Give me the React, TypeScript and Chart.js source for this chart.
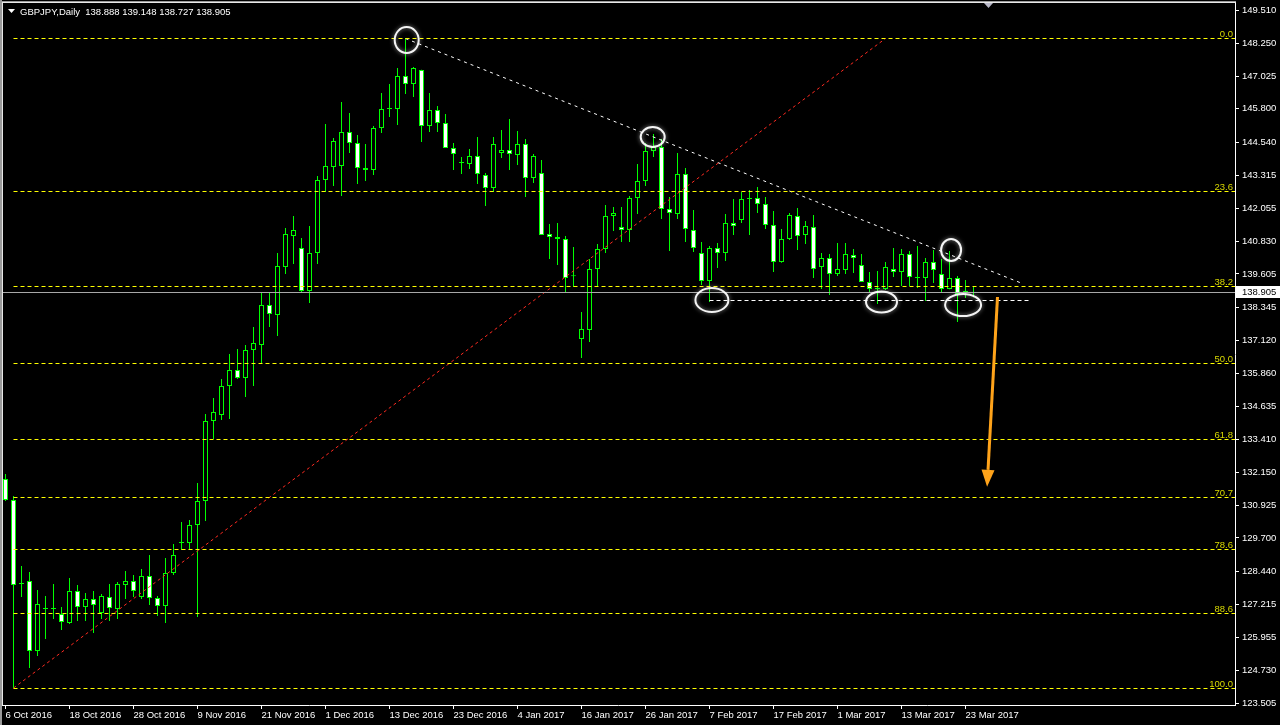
import React, { useEffect, useRef } from "react";
import { Chart, registerables } from "chart.js";

Chart.register(...registerables);

const symbolTitle = "GBPJPY,Daily";

const opens = [
  131.911, 131.123, 127.972, 128.084, 125.458, 127.033, 127.033, 126.846, 126.508, 127.709,
  127.109, 127.409, 126.883, 127.484, 127.033, 127.934, 128.084, 127.484, 128.272, 127.446,
  127.146, 128.384, 129.51, 129.51, 130.185, 131.086, 134.088, 134.313, 135.401, 136.001,
  135.701, 136.752, 136.94, 138.44, 138.065, 139.866, 141.03, 140.579, 138.966, 140.392,
  143.131, 143.619, 143.656, 144.932, 144.519, 143.581, 143.506, 145.082, 145.795, 145.795,
  147.033, 146.733, 147.258, 145.157, 145.757, 145.27, 144.332, 143.769, 143.731, 144.031,
  143.318, 142.831, 144.144, 144.257, 144.069, 144.482, 143.206, 143.394, 141.105, 140.992,
  140.917, 139.529, 137.165, 137.502, 139.791, 140.542, 141.78, 141.367, 141.255, 142.455,
  143.093, 144.219, 144.369, 142.043, 141.855, 143.356, 141.255, 140.392, 139.341, 140.579,
  140.392, 141.517, 141.63, 142.418, 142.455, 142.23, 141.442, 140.054, 140.917, 141.78,
  141.067, 141.367, 139.866, 140.204, 139.604, 139.754, 140.317, 139.941, 139.304, 139.041,
  139.041, 139.791, 139.679, 140.354, 139.454, 139.454, 140.054, 139.604, 139.041, 139.454,
  138.891, 138.888,
];

const highs = [
  132.099, 131.274, 128.647, 128.422, 127.746, 127.521, 127.972, 127.109, 128.197, 127.934,
  127.634, 127.709, 127.596, 127.972, 128.047, 128.459, 128.309, 128.534, 129.06, 127.521,
  128.947, 129.472, 130.298, 130.373, 131.761, 134.35, 134.951, 135.664, 136.602, 136.789,
  136.94, 137.615, 138.891, 138.891, 140.392, 141.33, 141.78, 140.955, 141.405, 143.281,
  145.232, 144.707, 146.058, 145.645, 144.819, 144.482, 145.157, 146.395, 146.733, 147.333,
  148.44, 147.371, 147.27, 146.395, 145.908, 145.607, 144.519, 143.994, 144.294, 144.744,
  143.394, 144.744, 145.007, 145.42, 144.969, 144.669, 144.106, 143.881, 141.48, 141.517,
  141.03, 140.617, 138.178, 140.167, 140.729, 142.193, 142.118, 142.118, 142.53, 143.731,
  144.519, 144.857, 144.669, 142.493, 144.144, 143.581, 142.005, 140.804, 140.654, 140.767,
  141.855, 142.418, 142.681, 142.756, 142.868, 142.493, 141.968, 141.292, 141.893, 142.08,
  141.592, 141.818, 140.392, 140.354, 140.767, 140.767, 140.542, 140.354, 139.679, 139.716,
  140.054, 140.579, 140.542, 140.467, 140.654, 140.204, 140.504, 140.167, 140.467, 139.529,
  139.379, 139.148,
];

const lows = [
  131.086, 124.069, 127.484, 124.82, 125.27, 125.908, 126.658, 126.246, 126.471, 126.583,
  126.583, 126.132, 126.658, 126.583, 126.658, 127.409, 127.484, 127.409, 127.184, 126.771,
  126.508, 128.309, 129.247, 129.285, 126.733, 130.336, 133.412, 134.125, 134.163, 135.664,
  134.988, 135.401, 136.264, 137.615, 137.277, 139.604, 139.979, 138.891, 138.516, 139.979,
  142.681, 142.906, 142.53, 144.144, 142.981, 143.093, 143.318, 144.894, 145.495, 145.195,
  146.358, 146.245, 144.557, 144.932, 144.932, 144.332, 143.506, 143.356, 143.544, 142.981,
  142.155, 142.681, 143.956, 143.506, 143.694, 142.493, 143.018, 141.067, 140.167, 139.941,
  138.928, 139.116, 136.452, 137.052, 139.116, 140.392, 141.217, 140.804, 140.804, 141.855,
  142.906, 143.994, 141.667, 140.467, 141.667, 140.804, 140.429, 139.191, 138.553, 139.829,
  140.091, 141.067, 141.517, 141.067, 141.893, 141.292, 139.679, 140.03, 140.879, 140.504,
  140.729, 139.454, 139.041, 138.816, 139.529, 139.604, 139.641, 139.304, 138.891, 138.478,
  139.003, 139.491, 139.153, 139.153, 139.078, 138.591, 139.266, 138.928, 139.03, 137.803,
  138.703, 138.727,
];

const closes = [
  131.123, 127.934, 128.009, 125.458, 127.221, 127.04, 127.03, 126.546, 127.709, 127.109,
  127.409, 127.184, 127.521, 127.071, 127.972, 128.084, 127.709, 128.272, 127.446, 127.146,
  128.384, 129.06, 129.52, 130.185, 131.086, 134.088, 134.426, 135.401, 136.001, 135.701,
  136.752, 137.015, 138.44, 138.103, 139.904, 141.105, 141.255, 138.966, 140.392, 143.131,
  143.656, 144.594, 144.932, 144.519, 143.581, 143.506, 145.082, 145.795, 145.8, 147.033,
  146.733, 147.333, 145.157, 145.757, 145.27, 144.332, 144.106, 143.78, 144.031, 143.356,
  142.831, 144.482, 144.257, 144.106, 144.482, 143.206, 144.031, 141.067, 140.992, 140.917,
  139.454, 139.52, 137.54, 139.791, 140.542, 141.78, 141.893, 141.255, 142.455, 143.093,
  144.219, 144.369, 142.043, 141.893, 143.356, 141.292, 140.579, 139.341, 140.579, 140.392,
  141.517, 141.405, 142.418, 142.43, 142.23, 141.442, 140.054, 140.917, 141.818, 141.03,
  141.405, 139.791, 140.204, 139.604, 139.791, 140.354, 140.204, 139.304, 139.041, 139.05,
  139.866, 139.679, 140.354, 139.491, 139.46, 140.054, 139.754, 139.041, 139.454, 138.853,
  138.966, 138.905,
];

const dateLabels = [
  "6 Oct 2016", "18 Oct 2016", "28 Oct 2016", "9 Nov 2016", "21 Nov 2016", "1 Dec 2016",
  "13 Dec 2016", "23 Dec 2016", "4 Jan 2017", "16 Jan 2017", "26 Jan 2017", "7 Feb 2017",
  "17 Feb 2017", "1 Mar 2017", "13 Mar 2017", "23 Mar 2017",
];
const dateLabelBars = [0, 8, 16, 24, 32, 40, 48, 56, 64, 72, 80, 88, 96, 104, 112, 120];

const priceTicks = [
  149.51, 148.25, 147.025, 145.8, 144.54, 143.315, 142.055, 140.83, 139.605, 138.345, 137.12,
  135.86, 134.635, 133.41, 132.15, 130.925, 129.7, 128.44, 127.215, 125.955, 124.73, 123.505,
];

const fibLevels = [0, 23.6, 38.2, 50, 61.8, 70.7, 78.6, 88.6, 100];
const fibHighPrice = 148.44;
const fibLowPrice = 124.069;
const fibStartBar = 1;
const fibEndBar = 110;

const trendLineBars = [50, 127];
const trendLinePrices = [148.44, 139.26];

const supportBars = [88, 128];
const supportPrice = 138.61;

const currentPrice = 138.905;

const circleBars = [50.15, 80.9, 118.2, 88.3, 109.5, 119.7];
const circlePrices = [148.384, 144.744, 140.505, 138.628, 138.553, 138.441];

const arrowBars = [124, 122.7];
const arrowPrices = [138.741, 131.62];

// ---- visual constants (styles / sizes) ----
const X_MIN = -0.5625;
const X_MAX = 153.6875;
const Y_MAX = 149.7727;
const Y_MIN = 123.4317;
const FONT = '"Liberation Sans", Arial, sans-serif';
const GREEN = "#00ff00";
const CIRCLE_RADII: [number, number][] = [
  [12, 13],
  [12, 10],
  [10, 11],
  [16.5, 12],
  [15.5, 10.5],
  [18, 11],
];

const decorPlugin = {
  id: "mt4decor",
  beforeDraw(chart: any) {
    const ctx = chart.ctx;
    ctx.save();
    ctx.fillStyle = "#000";
    ctx.fillRect(0, 0, chart.width, chart.height);
    ctx.restore();
  },
  afterDatasetsDraw(chart: any) {
    const ctx = chart.ctx;
    const xs = chart.scales.x;
    const ys = chart.scales.y;
    const area = chart.chartArea;
    ctx.save();
    ctx.beginPath();
    ctx.rect(area.left, area.top, area.right - area.left, area.bottom - area.top);
    ctx.clip();

    // current price line
    const cy = Math.floor(ys.getPixelForValue(currentPrice)) + 0.5;
    ctx.strokeStyle = "#a8a8a8";
    ctx.lineWidth = 1;
    ctx.setLineDash([]);
    ctx.beginPath();
    ctx.moveTo(area.left, cy);
    ctx.lineTo(area.right, cy);
    ctx.stroke();

    // fib levels
    const range = fibHighPrice - fibLowPrice;
    const fx = xs.getPixelForValue(fibStartBar);
    ctx.setLineDash([4, 3]);
    ctx.strokeStyle = "#ffff00";
    ctx.font = `9.5px ${FONT}`;
    ctx.textAlign = "right";
    ctx.textBaseline = "alphabetic";
    fibLevels.forEach((lv) => {
      const p = fibHighPrice - (lv / 100) * range;
      const py = Math.floor(ys.getPixelForValue(p)) + 0.5;
      ctx.beginPath();
      ctx.moveTo(fx, py);
      ctx.lineTo(area.right, py);
      ctx.stroke();
    });
    ctx.setLineDash([]);
    ctx.fillStyle = "#d8d800";
    fibLevels.forEach((lv) => {
      const p = fibHighPrice - (lv / 100) * range;
      const py = Math.floor(ys.getPixelForValue(p));
      ctx.fillText(lv.toFixed(1), area.right - 2, py - 1);
    });

    // support dashed line
    const sy = Math.floor(ys.getPixelForValue(supportPrice)) + 0.5;
    ctx.strokeStyle = "#ffffff";
    ctx.setLineDash([4, 3]);
    ctx.beginPath();
    ctx.moveTo(xs.getPixelForValue(supportBars[0]), sy);
    ctx.lineTo(xs.getPixelForValue(supportBars[1]), sy);
    ctx.stroke();
    ctx.setLineDash([]);

    // circles
    ctx.lineWidth = 2;
    ctx.strokeStyle = "rgba(255,255,255,0.95)";
    ctx.shadowColor = "rgba(255,255,255,0.6)";
    ctx.shadowBlur = 4;
    circleBars.forEach((b, k) => {
      const px = xs.getPixelForValue(b);
      const py = ys.getPixelForValue(circlePrices[k]);
      const [rx, ry] = CIRCLE_RADII[k];
      ctx.beginPath();
      ctx.ellipse(px, py, rx, ry, 0, 0, Math.PI * 2);
      ctx.stroke();
    });
    ctx.shadowBlur = 0;
    ctx.shadowColor = "transparent";

    // arrow
    const ax0 = xs.getPixelForValue(arrowBars[0]);
    const ay0 = ys.getPixelForValue(arrowPrices[0]);
    const ax1 = xs.getPixelForValue(arrowBars[1]);
    const ay1 = ys.getPixelForValue(arrowPrices[1]);
    const ang = Math.atan2(ay1 - ay0, ax1 - ax0);
    const headLen = 17;
    const headW = 6.5;
    const bx = ax1 - Math.cos(ang) * headLen;
    const by = ay1 - Math.sin(ang) * headLen;
    ctx.strokeStyle = "#ffa31a";
    ctx.fillStyle = "#ffa31a";
    ctx.lineWidth = 3;
    ctx.beginPath();
    ctx.moveTo(ax0, ay0);
    ctx.lineTo(bx, by);
    ctx.stroke();
    ctx.beginPath();
    ctx.moveTo(ax1, ay1);
    ctx.lineTo(bx + Math.sin(ang) * headW, by - Math.cos(ang) * headW);
    ctx.lineTo(bx - Math.sin(ang) * headW, by + Math.cos(ang) * headW);
    ctx.closePath();
    ctx.fill();
    ctx.restore();
  },
  afterDraw(chart: any) {
    const ctx = chart.ctx;
    const ys = chart.scales.y;
    const area = chart.chartArea;
    ctx.save();
    // window borders
    ctx.fillStyle = "#9a9a9a";
    ctx.fillRect(0, 0, 2, chart.height);
    ctx.fillRect(0, 1, area.right + 1, 1);
    ctx.fillStyle = "#e8e8e8";
    ctx.fillRect(2, 2, 1, area.bottom - 2);
    ctx.fillRect(2, 2, area.right - 1, 1);

    // header
    ctx.fillStyle = "#ffffff";
    ctx.beginPath();
    ctx.moveTo(8, 9);
    ctx.lineTo(15, 9);
    ctx.lineTo(11.5, 13);
    ctx.closePath();
    ctx.fill();
    const last = opens.length - 1;
    ctx.font = `9.5px ${FONT}`;
    ctx.textAlign = "left";
    ctx.textBaseline = "alphabetic";
    ctx.fillText(
      `${symbolTitle}  ${opens[last].toFixed(3)} ${highs[last].toFixed(3)} ${lows[last].toFixed(3)} ${closes[last].toFixed(3)}`,
      20,
      15
    );

    // shift marker
    ctx.fillStyle = "#b8b8c8";
    ctx.beginPath();
    ctx.moveTo(984, 3);
    ctx.lineTo(993, 3);
    ctx.lineTo(988.5, 8);
    ctx.closePath();
    ctx.fill();

    // current price box
    const py = Math.floor(ys.getPixelForValue(currentPrice));
    ctx.fillStyle = "#ffffff";
    ctx.fillRect(area.right + 1, py - 6, chart.width - area.right - 1, 12);
    ctx.fillStyle = "#000000";
    ctx.textBaseline = "middle";
    ctx.fillText(currentPrice.toFixed(3), area.right + 7, py + 0.5);
    ctx.restore();
  },
};

export default function App() {
  const canvasRef = useRef<HTMLCanvasElement | null>(null);

  useEffect(() => {
    const canvas = canvasRef.current;
    if (!canvas) return;
    const bodies = opens.map((o, i) => ({ x: i, y: [o, closes[i]] }));
    const wicks = lows.map((l, i) => ({ x: i, y: [l, highs[i]] }));
    const bodyColors = opens.map((o, i) => (closes[i] < o ? "#ffffff" : "#000000"));

    const chart = new Chart(canvas, {
      type: "bar",
      data: {
        datasets: [
          {
            type: "line",
            label: "fib",
            data: [
              { x: fibStartBar, y: fibLowPrice },
              { x: fibEndBar, y: fibHighPrice },
            ],
            borderColor: "#ff2a20",
            borderWidth: 1,
            borderDash: [3, 3],
            pointRadius: 0,
            fill: false,
            order: 0,
          } as any,
          {
            type: "line",
            label: "trend",
            data: trendLineBars.map((b, k) => ({ x: b, y: trendLinePrices[k] })),
            borderColor: "#ffffff",
            borderWidth: 1,
            borderDash: [3, 4],
            pointRadius: 0,
            fill: false,
            order: 0,
          } as any,
          {
            type: "bar",
            label: "body",
            data: bodies,
            backgroundColor: bodyColors,
            borderColor: GREEN,
            borderWidth: 1,
            borderSkipped: false,
            barThickness: 5,
            minBarLength: 1,
            grouped: false,
            inflateAmount: 0,
            order: 1,
          } as any,
          {
            type: "bar",
            label: "wick",
            data: wicks,
            backgroundColor: GREEN,
            borderWidth: 0,
            barThickness: 1,
            minBarLength: 1,
            grouped: false,
            inflateAmount: 0,
            order: 2,
          } as any,
        ],
      },
      options: {
        animation: false,
        responsive: false,
        devicePixelRatio: 1,
        events: [],
        layout: { padding: { top: 3, left: 1, right: 0, bottom: 0 } },
        plugins: { legend: { display: false }, tooltip: { enabled: false } },
        scales: {
          x: {
            type: "linear",
            min: X_MIN,
            max: X_MAX,
            offset: false,
            afterBuildTicks: (s: any) => {
              s.ticks = dateLabelBars.map((v) => ({ value: v }));
            },
            afterFit: (s: any) => {
              s.height = 20;
              s.paddingLeft = 0;
              s.paddingRight = 0;
            },
            ticks: {
              color: "#ffffff",
              font: { family: FONT, size: 9.5 },
              align: "start",
              maxRotation: 0,
              minRotation: 0,
              autoSkip: false,
              padding: 1,
              callback: (_v: any, idx: number) => dateLabels[idx] ?? "",
            },
            grid: {
              display: true,
              drawOnChartArea: false,
              drawTicks: true,
              tickLength: 4,
              color: "#ffffff",
              offset: false,
            },
            border: { display: true, color: "#ffffff", width: 1 },
          },
          y: {
            type: "linear",
            position: "right",
            min: Y_MIN,
            max: Y_MAX,
            afterBuildTicks: (s: any) => {
              s.ticks = priceTicks.map((v) => ({ value: v }));
            },
            afterFit: (s: any) => {
              s.width = 45;
              s.paddingTop = 0;
              s.paddingBottom = 0;
            },
            ticks: {
              color: "#ffffff",
              font: { family: FONT, size: 9.5 },
              padding: 3,
              autoSkip: false,
              callback: (v: any) => Number(v).toFixed(3),
            },
            grid: {
              display: true,
              drawOnChartArea: false,
              drawTicks: true,
              tickLength: 4,
              color: "#ffffff",
            },
            border: { display: true, color: "#ffffff", width: 1 },
          },
        },
      } as any,
      plugins: [decorPlugin],
    });

    return () => {
      chart.destroy();
    };
  }, []);

  return (
    <div style={{ position: "fixed", left: 0, top: 0, width: 1280, height: 725, background: "#000" }}>
      <canvas ref={canvasRef} width={1280} height={725} style={{ display: "block", width: 1280, height: 725 }} />
    </div>
  );
}
